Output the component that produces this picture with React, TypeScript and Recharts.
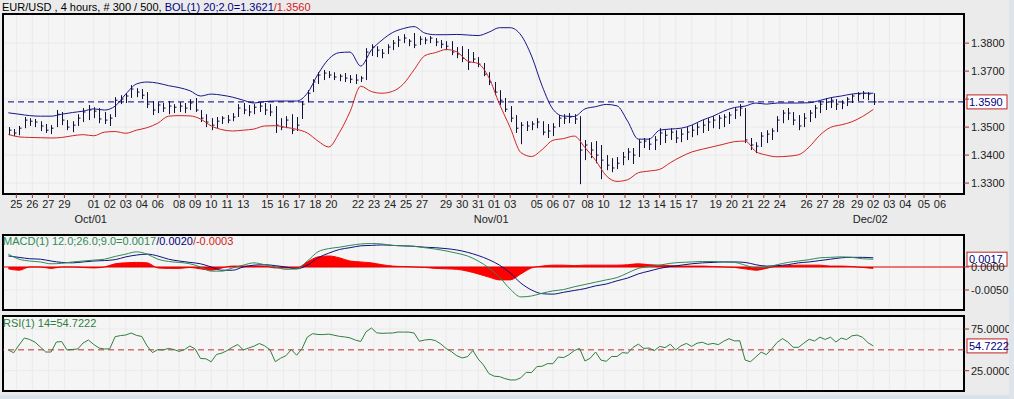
import React from 'react'
import {
  ComposedChart,
  Bar,
  Line,
  Area,
  XAxis,
  YAxis,
  CartesianGrid,
  ReferenceLine,
  ReferenceArea,
} from 'recharts'

// x unit = one 4-hour bar ("slot"); the plot spans 360 slots
const X_DOMAIN: [number, number] = [0, 360]

const dayTicks = [
  5, 11, 17, 23, 34, 40, 46, 52, 58, 66, 72, 78, 84, 90, 99, 105, 111, 117, 123, 133, 139, 145, 151, 157, 166, 172,
  178, 184, 190, 200, 206, 212, 219, 225, 233, 240, 246, 252, 258, 267, 273, 279, 285, 291, 301, 307, 313, 320, 326,
  332, 338, 345, 351,
]
const dayLabels = [
  '25', '26', '27', '29', '01', '02', '03', '04', '06', '08', '09', '10', '11', '13', '15', '16', '17', '18', '20',
  '22', '23', '24', '25', '27', '29', '30', '31', '01', '03', '05', '06', '07', '08', '10', '12', '13', '14', '15',
  '17', '19', '20', '21', '22', '24', '26', '27', '28', '29', '02', '03', '04', '05', '06',
]
const monthTicks = [34, 184, 326]
const monthLabels = ['Oct/01', 'Nov/01', 'Dec/02']

const priceTicks = [1.33, 1.34, 1.35, 1.36, 1.37, 1.38]
// the 1.3600 label sits under the last-price box, so it is not printed
const priceHiddenLabels = [1.36]
const macdTicks = [-0.005, 0]
const rsiTicks = [25, 75]

const priceDomain: [number, number] = [1.3261, 1.3904]
const macdDomain: [number, number] = [-0.00935, 0.00696]
const rsiDomain: [number, number] = [0.66, 90.59]

// price bars, one every 8 hours
const barHigh = [
  1.35, 1.3493, 1.3504, 1.3536, 1.3532, 1.3529, 1.3521, 1.3511, 1.3507, 1.3561,
  1.3554, 1.3525, 1.3521, 1.3546, 1.3568, 1.3579, 1.3571, 1.3568, 1.3554, 1.3546,
  1.3607, 1.3614, 1.3621, 1.365, 1.3639, 1.3636, 1.3625, 1.3593, 1.3589, 1.3586,
  1.3593, 1.3582, 1.3589, 1.3586, 1.36, 1.3604, 1.3561, 1.3546, 1.3532, 1.3536,
  1.3539, 1.3543, 1.355, 1.3582, 1.3586, 1.3579, 1.3582, 1.3589, 1.3586, 1.3582,
  1.3575, 1.3532, 1.3539, 1.3546, 1.3536, 1.3593, 1.3632, 1.3671, 1.3696, 1.3704,
  1.37, 1.3696, 1.3689, 1.3693, 1.3686, 1.3689, 1.3682, 1.3782, 1.3796, 1.3789,
  1.3779, 1.3796, 1.3811, 1.3825, 1.3832, 1.3814, 1.3836, 1.3825, 1.3821, 1.3825,
  1.3818, 1.3811, 1.3807, 1.3807, 1.3786, 1.3789, 1.3779, 1.3768, 1.375, 1.3729,
  1.3696, 1.3661, 1.3632, 1.3604, 1.3575, 1.3543, 1.3518, 1.3521, 1.3521, 1.3532,
  1.3521, 1.3511, 1.3514, 1.3543, 1.3546, 1.355, 1.3546, 1.3539, 1.3454, 1.3446,
  1.345, 1.3436, 1.34, 1.3389, 1.3393, 1.3411, 1.3425, 1.3425, 1.3457, 1.3461,
  1.3461, 1.3468, 1.3496, 1.3489, 1.3496, 1.3489, 1.3493, 1.35, 1.3507, 1.3514,
  1.3525, 1.3532, 1.3539, 1.3543, 1.3546, 1.3554, 1.3571, 1.3582, 1.3568, 1.3461,
  1.3446, 1.3482, 1.3489, 1.3496, 1.3539, 1.3561, 1.3568, 1.3554, 1.3543, 1.355,
  1.3561, 1.3579, 1.3593, 1.3604, 1.3607, 1.36, 1.3596, 1.3607, 1.3618, 1.3625,
  1.3629, 1.3625, 1.3621,
]
const barLow = [
  1.3471, 1.3468, 1.3471, 1.3496, 1.3504, 1.35, 1.3486, 1.3479, 1.3475, 1.35,
  1.3507, 1.3489, 1.3482, 1.3504, 1.3518, 1.3525, 1.3532, 1.3514, 1.3511, 1.3504,
  1.3536, 1.3582, 1.3586, 1.3604, 1.3607, 1.36, 1.3568, 1.3543, 1.355, 1.3554,
  1.3546, 1.355, 1.3554, 1.355, 1.3561, 1.3554, 1.3518, 1.35, 1.3489, 1.3496,
  1.3511, 1.3514, 1.3521, 1.3536, 1.3546, 1.3539, 1.3546, 1.3554, 1.3543, 1.3539,
  1.3479, 1.3489, 1.3496, 1.3475, 1.3486, 1.3529, 1.3589, 1.3625, 1.3654, 1.3668,
  1.3675, 1.3668, 1.3664, 1.3661, 1.3657, 1.3654, 1.3661, 1.3668, 1.3754, 1.375,
  1.3746, 1.3761, 1.3775, 1.3786, 1.38, 1.3789, 1.3782, 1.3793, 1.3796, 1.38,
  1.3789, 1.3782, 1.3775, 1.3757, 1.3746, 1.3732, 1.3704, 1.3729, 1.3714, 1.3682,
  1.365, 1.3614, 1.3579, 1.3554, 1.3518, 1.3479, 1.3439, 1.3486, 1.3489, 1.3496,
  1.3471, 1.3461, 1.3468, 1.35, 1.3511, 1.3514, 1.3511, 1.3296, 1.3382, 1.3389,
  1.3371, 1.3314, 1.3346, 1.3339, 1.335, 1.3364, 1.3382, 1.3368, 1.3393, 1.3425,
  1.3418, 1.3418, 1.3436, 1.3443, 1.3454, 1.3443, 1.3446, 1.3454, 1.3464, 1.3471,
  1.3479, 1.3486, 1.3496, 1.3493, 1.35, 1.3511, 1.3529, 1.3539, 1.3443, 1.3418,
  1.3407, 1.3429, 1.3443, 1.3454, 1.3482, 1.3514, 1.3525, 1.3507, 1.3489, 1.35,
  1.3518, 1.3532, 1.355, 1.3561, 1.3568, 1.3561, 1.3564, 1.3575, 1.3586, 1.3593,
  1.36, 1.3596, 1.3579,
]
const barClose = [
  1.3489, 1.3479, 1.3496, 1.3525, 1.3521, 1.3518, 1.3504, 1.3489, 1.3496, 1.3546,
  1.3525, 1.35, 1.3507, 1.3532, 1.3554, 1.3561, 1.3557, 1.3529, 1.3525, 1.3532,
  1.3596, 1.36, 1.3611, 1.3636, 1.3625, 1.3614, 1.3582, 1.3561, 1.3579, 1.3568,
  1.3575, 1.3571, 1.3575, 1.3568, 1.3586, 1.3561, 1.3532, 1.3518, 1.3507, 1.3521,
  1.3532, 1.3525, 1.3536, 1.3568, 1.3561, 1.3554, 1.3571, 1.3575, 1.3561, 1.3554,
  1.3507, 1.35, 1.3525, 1.3489, 1.3507, 1.3582, 1.3621, 1.3661, 1.3686, 1.3693,
  1.3686, 1.3679, 1.3682, 1.3675, 1.3671, 1.3668, 1.3675, 1.3768, 1.3786, 1.3775,
  1.3764, 1.3786, 1.38, 1.3811, 1.3818, 1.3807, 1.3793, 1.3814, 1.3811, 1.3818,
  1.3804, 1.3796, 1.3789, 1.3768, 1.3761, 1.3746, 1.3732, 1.3743, 1.3725, 1.3689,
  1.3661, 1.3625, 1.3596, 1.3564, 1.3532, 1.3496, 1.3507, 1.3504, 1.3511, 1.3518,
  1.3482, 1.3486, 1.35, 1.3532, 1.3532, 1.3536, 1.3529, 1.3418, 1.3436, 1.3418,
  1.34, 1.3382, 1.3364, 1.3354, 1.3371, 1.3393, 1.3411, 1.34, 1.3446, 1.345,
  1.3439, 1.3454, 1.3479, 1.3471, 1.3482, 1.3461, 1.3475, 1.3482, 1.3489, 1.35,
  1.3507, 1.3518, 1.3525, 1.3532, 1.3536, 1.3543, 1.3561, 1.3568, 1.3454, 1.3436,
  1.3432, 1.3468, 1.3475, 1.3486, 1.3525, 1.355, 1.355, 1.3525, 1.3504, 1.3532,
  1.355, 1.3568, 1.3582, 1.3589, 1.3596, 1.3582, 1.3586, 1.36, 1.3611, 1.3618,
  1.3621, 1.3618, 1.359,
]

// Bollinger bands, one point every 16 hours
const bandUpper = [
  1.3551, 1.3546, 1.3541, 1.3539, 1.3539, 1.3546, 1.3552, 1.3557, 1.3565, 1.3561,
  1.3575, 1.3618, 1.3654, 1.3661, 1.3657, 1.3648, 1.3641, 1.363, 1.3611, 1.3618,
  1.3614, 1.3607, 1.3596, 1.3586, 1.3591, 1.3593, 1.3593, 1.3593, 1.3621, 1.3689,
  1.3743, 1.3766, 1.3768, 1.3718, 1.3775, 1.3811, 1.3838, 1.3852, 1.3859, 1.3836,
  1.383, 1.383, 1.3831, 1.3829, 1.3827, 1.3839, 1.3855, 1.3855, 1.3829, 1.3754,
  1.3646, 1.3564, 1.3539, 1.3538, 1.3565, 1.3573, 1.3581, 1.3576, 1.3521, 1.3457,
  1.3457, 1.3489, 1.3493, 1.3496, 1.3507, 1.3525, 1.3539, 1.3557, 1.357, 1.3575,
  1.3586, 1.3582, 1.3586, 1.3586, 1.3586, 1.3587, 1.3595, 1.3605, 1.3611, 1.3618,
  1.3621, 1.3621,
]
const bandLower = [
  1.3474, 1.3465, 1.3463, 1.3462, 1.3461, 1.3463, 1.3469, 1.3473, 1.3469, 1.3482,
  1.3484, 1.3478, 1.3489, 1.3498, 1.3514, 1.3539, 1.3541, 1.354, 1.3529, 1.3504,
  1.3491, 1.3486, 1.3489, 1.3493, 1.3504, 1.3505, 1.3499, 1.3492, 1.3479, 1.345,
  1.3429, 1.348, 1.3555, 1.3646, 1.3627, 1.3621, 1.3628, 1.3654, 1.3705, 1.3755,
  1.3766, 1.3777, 1.3769, 1.3736, 1.3727, 1.3677, 1.3582, 1.3498, 1.3409, 1.3395,
  1.342, 1.3453, 1.3459, 1.3468, 1.3427, 1.3381, 1.3326, 1.3306, 1.3312, 1.3337,
  1.3343, 1.3349, 1.3373, 1.3394, 1.3411, 1.3421, 1.343, 1.3439, 1.3448, 1.345,
  1.3413, 1.34, 1.3394, 1.3396, 1.3401, 1.3429, 1.3471, 1.3499, 1.3508, 1.3519,
  1.3538, 1.3563,
]

// MACD, one point every 16 hours
const macdLine = [
  0.0028, 0.0017, 0.0013, 0.0011, 0.0007, 0.0008, 0.0011, 0.0013, 0.0015, 0.0017,
  0.0023, 0.0028, 0.0033, 0.0028, 0.0017, 0.0012, 0.001, 0.0007, 0.0, -0.0009,
  -0.0009, -0.0002, 0.0004, 0.0009, 0.0005, 0.0, -0.0005, -0.0004, 0.0013, 0.0033,
  0.004, 0.0043, 0.0047, 0.005, 0.0051, 0.005, 0.0047, 0.0046, 0.0045, 0.0042,
  0.0039, 0.0035, 0.003, 0.0024, 0.0013, -0.0002, -0.0022, -0.0048, -0.0065, -0.0063,
  -0.0057, -0.0052, -0.0049, -0.0043, -0.0038, -0.0033, -0.0028, -0.0023, -0.0013, -0.0003,
  0.0001, 0.0004, 0.0008, 0.001, 0.0011, 0.0012, 0.0012, 0.0011, 0.001, 0.0004,
  -0.0002, 0.0, 0.0005, 0.001, 0.0013, 0.0016, 0.002, 0.0021, 0.0022, 0.0021,
  0.0018, 0.0017,
]
const macdSignal = [
  0.0024, 0.0021, 0.0018, 0.0017, 0.0013, 0.001, 0.0009, 0.0011, 0.0013, 0.0014,
  0.0016, 0.0022, 0.0026, 0.0028, 0.0024, 0.0017, 0.0013, 0.001, 0.0007, 0.0,
  -0.0007, -0.0007, 0.0, 0.0004, 0.0005, 0.0003, 0.0, -0.0004, 0.0004, 0.002,
  0.003, 0.0038, 0.0042, 0.0046, 0.0047, 0.0048, 0.0047, 0.0046, 0.0045, 0.0043,
  0.0042, 0.004, 0.0037, 0.0032, 0.0025, 0.0016, 0.0004, -0.0013, -0.0035, -0.005,
  -0.0058, -0.0059, -0.0055, -0.0051, -0.0047, -0.0041, -0.0037, -0.003, -0.0024, -0.0015,
  -0.0009, -0.0003, 0.0001, 0.0004, 0.0007, 0.0009, 0.001, 0.0011, 0.0011, 0.001,
  0.0005, 0.0002, 0.0003, 0.0005, 0.0009, 0.0011, 0.0014, 0.0017, 0.002, 0.0021,
  0.0021, 0.002,
]
const macdHist = [
  -0.0004, -0.0007, 0.0, 0.0, -0.0003, 0.0, 0.0, -0.0001, -0.0002, 0.0,
  0.0007, 0.0009, 0.001, 0.0009, -0.0002, -0.0003, -0.0003, -0.0001, -0.0004, -0.0007,
  -0.0002, 0.0002, 0.0002, 0.0002, 0.0002, -0.0002, -0.0002, -0.0002, 0.0011, 0.0022,
  0.0024, 0.002, 0.0013, 0.0011, 0.0009, 0.0005, 0.0002, 0.0001, 0.0, -0.0001,
  -0.0003, -0.0004, -0.0005, -0.0009, -0.0015, -0.0022, -0.0028, -0.0028, -0.0015, -0.0002,
  0.0002, 0.0004, 0.0004, 0.0003, 0.0004, 0.0004, 0.0004, 0.0004, 0.0005, 0.0007,
  0.0005, 0.0004, 0.0003, 0.0002, 0.0002, 0.0002, 0.0001, 0.0, -0.0001, -0.0004,
  -0.0007, -0.0003, 0.0002, 0.0003, 0.0004, 0.0004, 0.0004, 0.0002, 0.0002, 0.0001,
  -0.0001, -0.0003,
]

// RSI(14), one point every 8 hours
const rsiLine = [
  49.8, 46.5, 55.8, 64.2, 62.4, 59.2, 53.4, 47.4, 47.4, 59.4,
  59.9, 49.8, 50.5, 51.0, 58.2, 61.8, 56.4, 52.2, 51.0, 51.3,
  65.8, 67.1, 67.8, 70.2, 67.4, 66.0, 54.6, 46.7, 50.3, 49.8,
  51.7, 50.4, 48.1, 50.3, 54.6, 51.0, 39.6, 39.3, 35.7, 44.5,
  46.1, 49.2, 53.3, 56.4, 49.8, 52.2, 54.4, 57.6, 54.9, 50.2,
  35.8, 40.0, 43.0, 50.3, 43.6, 51.3, 65.3, 69.4, 68.4, 68.3,
  68.9, 67.6, 66.2, 65.5, 64.4, 61.7, 60.0, 71.6, 76.2, 70.4,
  69.8, 70.1, 70.2, 71.4, 71.3, 71.3, 70.2, 60.3, 61.8, 62.5,
  61.1, 57.1, 51.6, 47.8, 43.0, 40.3, 41.8, 49.2, 39.0, 31.8,
  21.6, 18.4, 17.9, 15.6, 13.9, 13.9, 16.5, 23.1, 22.7, 29.9,
  30.4, 33.5, 33.4, 41.4, 40.7, 44.2, 49.1, 51.7, 36.6, 40.0,
  47.4, 37.7, 36.3, 42.1, 42.0, 46.7, 46.0, 52.9, 56.9, 51.7,
  52.2, 49.1, 54.1, 52.7, 56.7, 49.8, 54.9, 57.7, 54.1, 58.0,
  59.1, 56.5, 57.7, 56.3, 60.4, 63.4, 60.7, 60.9, 37.8, 35.7,
  41.4, 47.2, 44.3, 51.3, 58.9, 63.5, 59.4, 53.1, 53.0, 58.0,
  62.7, 60.6, 65.2, 62.5, 65.2, 59.4, 64.1, 62.3, 66.8, 67.7,
  65.0, 58.7, 54.7222,
]

const lastPrice = 1.359
const lastMacd = 0.0017
const lastRsi = 54.7222

const priceRows = barHigh.map((high, k) => ({
  slot: 2 + 2 * k,
  range: [barLow[k], high],
  high,
  low: barLow[k],
  close: barClose[k],
  upper: k % 2 === 0 ? bandUpper[k / 2] : null,
  lower: k % 2 === 0 ? bandLower[k / 2] : null,
}))
const macdRows = macdLine.map((v, j) => ({ slot: 2 + 4 * j, macd: v, signal: macdSignal[j], hist: macdHist[j] }))
const rsiRows = rsiLine.map((v, k) => ({ slot: 2 + 2 * k, rsi: v }))

const FONT = '"Liberation Sans", Arial, sans-serif'
const NAVY = '#000080'
const GRID = '#d4d4d4'
const TICK = '#a03030'

function OhlcBar(props: any) {
  const { x, y, width, height } = props
  const p = props.payload ?? props
  if (x == null || y == null || height == null) return null
  const cx = Math.round(x + width / 2) + 0.5
  const top = Math.min(y, y + height)
  const bottom = Math.max(y, y + height)
  const span = p.high - p.low
  const cy = span > 0 ? top + ((p.high - p.close) / span) * (bottom - top) : top
  return (
    <g stroke="#10103a" strokeWidth={1}>
      <line x1={cx} y1={top} x2={cx} y2={bottom} />
      <line x1={cx} y1={cy} x2={cx + 2} y2={cy} />
    </g>
  )
}

function DayTick(props: any) {
  const { x, y, payload } = props
  const i = dayTicks.indexOf(payload.value)
  const m = monthTicks.indexOf(payload.value)
  return (
    <g fontSize={11} fill="#222" fontFamily={FONT}>
      <text x={x} y={y} dy="0.71em" textAnchor="middle">
        {dayLabels[i]}
      </text>
      {m >= 0 && (
        <text x={x - 3} y={y + 15} dy="0.71em" textAnchor="middle">
          {monthLabels[m]}
        </text>
      )}
    </g>
  )
}

function ValueBox(props: any) {
  const { viewBox, text } = props
  if (!viewBox) return null
  const bx = viewBox.x + viewBox.width + 3
  const by = viewBox.y
  return (
    <g>
      <rect x={bx} y={by - 7} width={40} height={14} fill="#fff" stroke="#c02020" />
      <text x={bx + 2} y={by} dy="0.35em" fontSize={11} fill={NAVY} fontFamily={FONT}>
        {text}
      </text>
    </g>
  )
}

const yTick = { fontSize: 11, fill: '#222' }

export default function App() {
  return (
    <div
      style={{
        position: 'absolute',
        left: 0,
        top: 0,
        width: 1014,
        height: 399,
        background: '#ebebeb',
        fontFamily: FONT,
        overflow: 'hidden',
      }}
    >
      <div style={{ position: 'absolute', left: 2, top: 0, fontSize: 11, lineHeight: '14px', whiteSpace: 'nowrap' }}>
        <span style={{ color: '#000' }}>EUR/USD , 4 hours, # 300 / 500, </span>
        <span style={{ color: NAVY }}>BOL(1) 20;2.0=1.3621</span>
        <span style={{ color: '#d02020' }}>/1.3560</span>
      </div>

      <div style={{ position: 'absolute', left: 0, top: 0 }}>
        <ComposedChart width={1014} height={232} data={priceRows} margin={{ top: 14, right: 0, bottom: 0, left: 3 }}>
          <ReferenceArea x1={X_DOMAIN[0]} x2={X_DOMAIN[1]} y1={priceDomain[0]} y2={priceDomain[1]} fill="#fff" stroke="none" ifOverflow="visible" />
          <CartesianGrid stroke={GRID} />
          <XAxis
            dataKey="slot"
            type="number"
            domain={X_DOMAIN}
            allowDataOverflow
            ticks={dayTicks}
            interval={0}
            height={38}
            axisLine={false}
            tickLine={{ stroke: TICK }}
            tickSize={4}
            tick={(p: any) => <DayTick {...p} />}
          />
          <YAxis
            orientation="right"
            width={50}
            type="number"
            domain={priceDomain}
            allowDataOverflow
            ticks={priceTicks}
            interval={0}
            tickFormatter={(v: number) => (priceHiddenLabels.includes(v) ? '' : v.toFixed(4))}
            tick={yTick}
            tickLine={{ stroke: TICK }}
            tickSize={5}
            axisLine={false}
          />
          <Bar dataKey="range" barSize={2} shape={<OhlcBar />} isAnimationActive={false} />
          <Line dataKey="upper" type="monotone" stroke="#16168a" strokeWidth={1} dot={false} connectNulls isAnimationActive={false} />
          <Line dataKey="lower" type="monotone" stroke="#d02424" strokeWidth={1} dot={false} connectNulls isAnimationActive={false} />
          <ReferenceLine y={lastPrice} stroke={NAVY} strokeDasharray="6 4" label={(p: any) => <ValueBox {...p} text="1.3590" />} />
          <ReferenceArea x1={X_DOMAIN[0]} x2={X_DOMAIN[1]} y1={priceDomain[0]} y2={priceDomain[1]} fill="none" stroke="#000" strokeWidth={2} ifOverflow="visible" />
        </ComposedChart>
      </div>

      <div style={{ position: 'absolute', left: 0, top: 230 }}>
        <ComposedChart width={1014} height={85} data={macdRows} margin={{ top: 5, right: 0, bottom: 5, left: 3 }}>
          <ReferenceArea x1={X_DOMAIN[0]} x2={X_DOMAIN[1]} y1={macdDomain[0]} y2={macdDomain[1]} fill="#fff" stroke="none" ifOverflow="visible" />
          <CartesianGrid stroke={GRID} />
          <XAxis dataKey="slot" type="number" domain={X_DOMAIN} allowDataOverflow ticks={dayTicks} interval={0} hide />
          <YAxis
            orientation="right"
            width={50}
            type="number"
            domain={macdDomain}
            allowDataOverflow
            ticks={macdTicks}
            interval={0}
            tickFormatter={(v: number) => v.toFixed(4)}
            tick={yTick}
            tickLine={{ stroke: TICK }}
            tickSize={5}
            axisLine={false}
          />
          <Area dataKey="hist" type="monotone" baseValue={0} stroke="#ff0000" fill="#ff0000" fillOpacity={1} isAnimationActive={false} />
          <ReferenceLine y={0} stroke="#e00000" />
          <Line dataKey="signal" type="monotone" stroke="#101080" strokeWidth={1} dot={false} isAnimationActive={false} />
          <Line dataKey="macd" type="monotone" stroke="#2f8a55" strokeWidth={1} dot={false} isAnimationActive={false} />
          <ReferenceLine y={lastMacd} stroke="none" label={(p: any) => <ValueBox {...p} text="0.0017" />} />
          <ReferenceArea x1={X_DOMAIN[0]} x2={X_DOMAIN[1]} y1={macdDomain[0]} y2={macdDomain[1]} fill="none" stroke="#000" strokeWidth={2} ifOverflow="visible" />
        </ComposedChart>
      </div>

      <div style={{ position: 'absolute', left: 0, top: 311 }}>
        <ComposedChart width={1014} height={85} data={rsiRows} margin={{ top: 5, right: 0, bottom: 5, left: 3 }}>
          <ReferenceArea x1={X_DOMAIN[0]} x2={X_DOMAIN[1]} y1={rsiDomain[0]} y2={rsiDomain[1]} fill="#fff" stroke="none" ifOverflow="visible" />
          <CartesianGrid stroke={GRID} />
          <XAxis dataKey="slot" type="number" domain={X_DOMAIN} allowDataOverflow ticks={dayTicks} interval={0} hide />
          <YAxis
            orientation="right"
            width={50}
            type="number"
            domain={rsiDomain}
            allowDataOverflow
            ticks={rsiTicks}
            interval={0}
            tickFormatter={(v: number) => v.toFixed(4)}
            tick={yTick}
            tickLine={{ stroke: TICK }}
            tickSize={5}
            axisLine={false}
          />
          <ReferenceLine y={50} stroke="#c03030" strokeDasharray="6 4" />
          <Line dataKey="rsi" type="linear" stroke="#2f7f3f" strokeWidth={1} dot={false} isAnimationActive={false} />
          <ReferenceLine y={lastRsi} stroke="none" label={(p: any) => <ValueBox {...p} text="54.7222" />} />
          <ReferenceArea x1={X_DOMAIN[0]} x2={X_DOMAIN[1]} y1={rsiDomain[0]} y2={rsiDomain[1]} fill="none" stroke="#000" strokeWidth={2} ifOverflow="visible" />
        </ComposedChart>
      </div>

      <div style={{ position: 'absolute', left: 3, top: 234, fontSize: 11, lineHeight: '14px', whiteSpace: 'nowrap' }}>
        <span style={{ color: '#2f8a55' }}>MACD(1) 12.0;26.0;9.0=0.0017</span>
        <span style={{ color: NAVY }}>/0.0020</span>
        <span style={{ color: '#d02020' }}>/-0.0003</span>
      </div>
      <div style={{ position: 'absolute', left: 3, top: 316, fontSize: 11, lineHeight: '14px', color: '#2f7f3f', whiteSpace: 'nowrap' }}>
        RSI(1) 14=54.7222
      </div>

      <div style={{ position: 'absolute', left: 0, top: 395, width: 1014, height: 4, background: '#d9e1ea' }} />
      <div style={{ position: 'absolute', left: 1009, top: 0, width: 5, height: 399, background: '#dde4ec' }} />
    </div>
  )
}
